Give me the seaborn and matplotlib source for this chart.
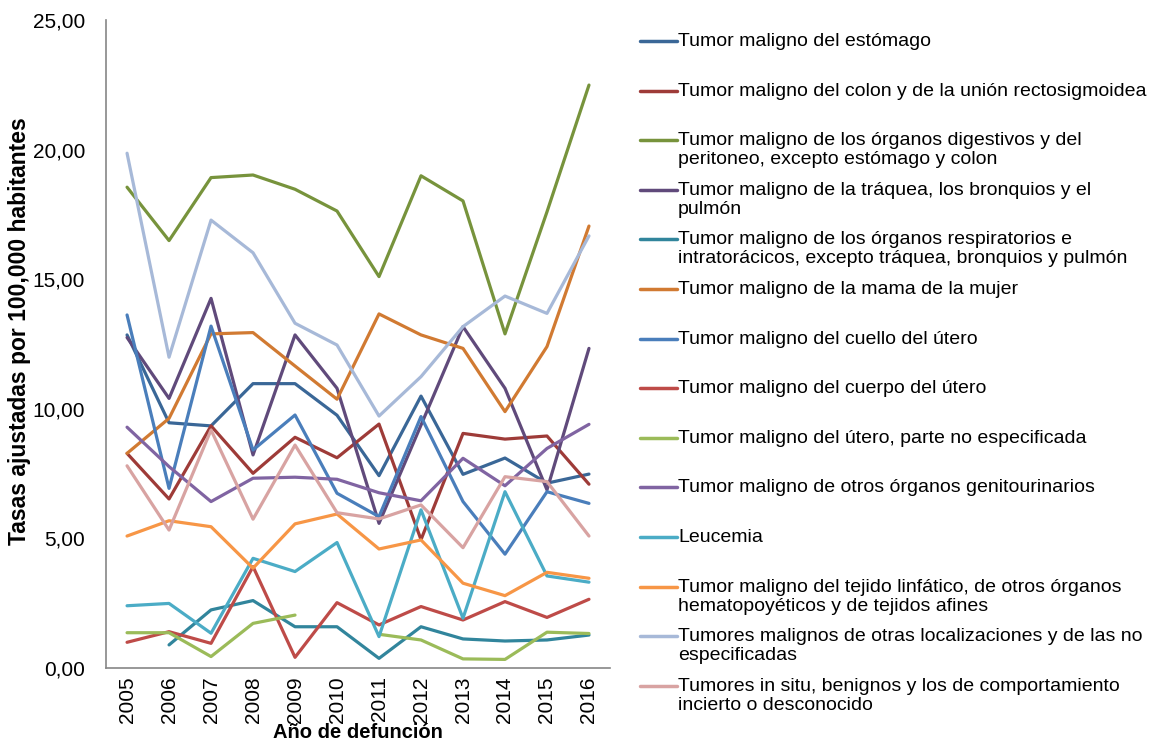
import numpy as np
import pandas as pd
import seaborn as sns
import matplotlib.pyplot as plt
from matplotlib.lines import Line2D

years = [2005, 2006, 2007, 2008, 2009, 2010, 2011, 2012, 2013, 2014, 2015, 2016]

estomago = [12.85, 9.46, 9.34, 10.97, 10.97, 9.75, 7.42, 10.49, 7.47, 8.1, 7.13, 7.48]
colon = [8.28, 6.52, 9.34, 7.51, 8.9, 8.11, 9.41, 4.95, 9.05, 8.83, 8.95, 7.09]
digestivos = [18.55, 16.49, 18.92, 19.02, 18.47, 17.63, 15.1, 18.99, 18.02, 12.89, 17.6, 22.49]
traquea = [12.75, 10.4, 14.26, 8.22, 12.85, 10.79, 5.58, 9.37, 13.17, 10.79, 6.87, 12.33]
respiratorios = [np.nan, 0.89, 2.24, 2.6, 1.59, 1.59, 0.37, 1.59, 1.12, 1.04, 1.08, 1.27]
mama = [8.28, 9.63, 12.89, 12.94, 11.65, 10.37, 13.66, 12.85, 12.33, 9.89, 12.4, 17.05]
cuello = [13.62, 6.93, 13.19, 8.41, 9.76, 6.74, 5.84, 9.7, 6.42, 4.39, 6.8, 6.35]
cuerpo = [0.99, 1.4, 0.95, 3.91, 0.41, 2.52, 1.66, 2.37, 1.85, 2.56, 1.95, 2.65]
utero_ne = [1.36, 1.36, 0.44, 1.72, 2.04, np.nan, 1.3, 1.08, 0.35, 0.33, 1.38, 1.33]
genitourinarios = [9.29, 7.77, 6.42, 7.32, 7.36, 7.28, 6.76, 6.45, 8.09, 7.03, 8.47, 9.4]
leucemia = [2.4, 2.49, 1.34, 4.23, 3.72, 4.84, 1.21, 6.1, 1.92, 6.8, 3.55, 3.31]
linfatico = [5.09, 5.68, 5.45, 3.85, 5.56, 5.94, 4.59, 4.94, 3.27, 2.79, 3.69, 3.46]
otras = [19.86, 11.99, 17.28, 16.02, 13.3, 12.46, 9.72, 11.24, 13.17, 14.35, 13.68, 16.67]
in_situ = [7.8, 5.32, 9.18, 5.74, 8.6, 5.99, 5.75, 6.29, 4.64, 7.38, 7.19, 5.09]

labels = [
    "Tumor maligno del estómago",
    "Tumor maligno del colon y de la unión rectosigmoidea",
    "Tumor maligno de los órganos digestivos y del\nperitoneo, excepto estómago y colon",
    "Tumor maligno de la tráquea, los bronquios y el\npulmón",
    "Tumor maligno de los órganos respiratorios e\nintratorácicos, excepto tráquea, bronquios y pulmón",
    "Tumor maligno de la mama de la mujer",
    "Tumor maligno del cuello del útero",
    "Tumor maligno del cuerpo del útero",
    "Tumor maligno del útero, parte no especificada",
    "Tumor maligno de otros órganos genitourinarios",
    "Leucemia",
    "Tumor maligno del tejido linfático, de otros órganos\nhematopoyéticos y de tejidos afines",
    "Tumores malignos de otras localizaciones y de las no\nespecificadas",
    "Tumores in situ, benignos y los de comportamiento\nincierto o desconocido",
]
series = [estomago, colon, digestivos, traquea, respiratorios, mama, cuello,
          cuerpo, utero_ne, genitourinarios, leucemia, linfatico, otras, in_situ]
colors = ["#3A6797", "#9E3B38", "#77933C", "#604A7B", "#31859C", "#D17A32",
          "#4A7EBB", "#BE4B48", "#9BBB59", "#8064A2", "#4BACC6", "#F79646",
          "#A7B9D8", "#D8A3A2"]

y_ticks = [0, 5, 10, 15, 20, 25]
y_tick_labels = ["0,00", "5,00", "10,00", "15,00", "20,00", "25,00"]

# long format, with a segment id so gaps (NaN) break the line
rows = []
for lab, vals in zip(labels, series):
    seg = 0
    for i, (yr, v) in enumerate(zip(years, vals)):
        if np.isnan(v):
            seg += 1
            continue
        rows.append({"serie": lab, "pos": i, "valor": v, "seg": seg})
df = pd.DataFrame(rows)

sns.set_style("white")
plt.rcParams["font.family"] = ["Liberation Sans", "DejaVu Sans"]
plt.rcParams["text.color"] = "black"
plt.rcParams["xtick.color"] = "black"
plt.rcParams["ytick.color"] = "black"
plt.rcParams["axes.labelcolor"] = "black"

fig = plt.figure(figsize=(11.59, 7.44), dpi=100)
ax = fig.add_axes([0.0915, 0.1022, 0.4348, 0.8709])

palette = dict(zip(labels, colors))
sns.lineplot(data=df, x="pos", y="valor", hue="serie", units="seg", estimator=None,
             palette=palette, hue_order=labels, linewidth=2.3, legend=False, ax=ax,
             sort=False)

ax.set_xlim(-0.5, len(years) - 0.5)
ax.set_ylim(0, 25)
ax.set_xticks(range(len(years)))
ax.set_xticklabels([str(y) for y in years], rotation=90, fontsize=15)
ax.set_xticks(np.arange(-0.5, len(years), 1), minor=True)
ax.set_yticks(y_ticks)
ax.set_yticklabels(y_tick_labels, fontsize=15)
ax.tick_params(axis="x", which="major", length=0, pad=6)
ax.tick_params(axis="x", which="minor", length=5, width=1, color="#868686", direction="out")
ax.tick_params(axis="y", length=5, width=1, color="#868686", direction="out", pad=10)

for s in ["top", "right"]:
    ax.spines[s].set_visible(False)
for s in ["left", "bottom"]:
    ax.spines[s].set_color("#868686")
    ax.spines[s].set_linewidth(1.2)

ax.set_xlabel("Año de defunción", fontsize=14.5, fontweight="bold", labelpad=0)
ax.set_ylabel("Tasas ajustadas por 100,000 habitantes", fontsize=16.5, fontweight="bold")
ax.yaxis.set_label_coords(-0.148, 0.52)

# legend drawn as in the spreadsheet: fixed slots, text wrapping downward
W, H = 1159, 744
for i, (lab, col) in enumerate(zip(labels, colors)):
    yc = 41 + i * 49.6
    fig.add_artist(Line2D([640 / W, 677 / W], [1 - yc / H, 1 - yc / H], color=col, lw=2.5))
    fig.text(678 / W, 1 - (yc - 8) / H, lab, fontsize=14, va="top", ha="left",
             linespacing=1.15)

fig.savefig("out.png", dpi=100)
